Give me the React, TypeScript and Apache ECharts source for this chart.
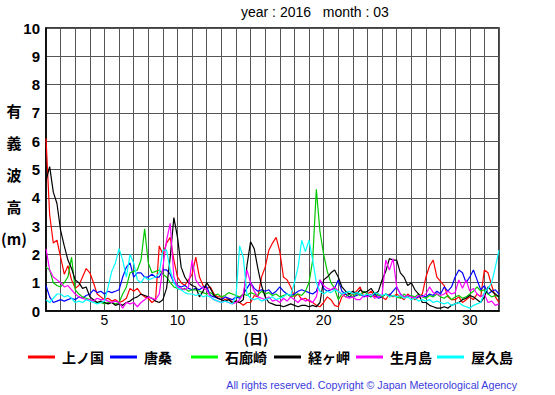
import React, { useEffect, useRef } from "react";
import * as echarts from "echarts";

// time axis: 6-hourly samples from day 1 00h to day 32 00h
const days: number[] = Array.from({ length: 125 }, (_, i) => 1 + i / 4);

const stationNames = ["上ノ国", "唐桑", "石廊崎", "経ヶ岬", "生月島", "屋久島"];
const xTickLabels = [5, 10, 15, 20, 25, 30];

const kaminokuni = [
  6.1, 3.4, 2.4, 2.5,
  1.9, 1.3, 1.6, 1.1,
  0.8, 0.9, 1.2, 1.5,
  1.35, 1.0, 0.6, 0.5,
  0.4, 0.45, 0.35, 0.4,
  0.3, 0.35, 0.45, 0.8,
  0.7, 0.8, 0.6, 0.5,
  0.45, 0.3, 0.4, 2.3,
  2.0, 2.4, 2.6, 1.8,
  1.2, 1.0, 0.9, 1.1,
  1.3, 1.9, 1.2, 0.9,
  0.8, 0.85, 0.6, 0.5,
  0.5, 0.4, 0.45, 0.3,
  0.35, 0.3, 0.2, 0.3,
  0.3, 0.55, 0.5, 1.2,
  1.55, 2.15, 2.4, 2.6,
  2.1, 1.2, 1.1, 0.85,
  0.5, 0.6, 0.4, 0.45,
  0.35, 0.3, 0.2, 0.15,
  0.3, 0.5, 0.4, 0.2,
  0.15, 0.5, 0.6, 0.5,
  0.6, 0.7, 0.85, 0.5,
  0.6, 0.7, 0.5, 0.6,
  0.5, 0.4, 0.6, 0.5,
  0.6, 0.5, 0.4, 0.6,
  0.5, 0.4, 0.5, 0.6,
  1.2, 1.6, 1.8, 1.2,
  1.05, 0.9, 0.5, 0.4,
  0.4, 0.5, 0.3, 0.4,
  0.5, 0.4, 0.6, 0.5,
  1.45, 1.35, 0.9, 0.5,
  0.3,
];

const karakuwa = [
  0.9, 0.5, 0.3, 0.35,
  0.4, 0.35, 0.4, 0.45,
  0.4, 0.5, 0.45, 0.55,
  0.6, 0.75, 0.65, 0.7,
  0.6, 0.7, 0.65, 0.7,
  0.75, 1.2, 1.55, 1.7,
  1.2, 1.35, 1.35, 1.2,
  1.2, 1.3, 1.2, 1.2,
  1.45, 1.45, 1.3, 1.0,
  0.9, 0.85, 0.9, 0.8,
  0.75, 0.8, 0.75, 0.85,
  0.85, 0.55, 0.5, 0.45,
  0.4, 0.5, 0.45, 0.4,
  0.5, 0.45, 0.6, 0.8,
  1.0, 0.8, 0.7, 0.75,
  0.7, 0.75, 0.6, 0.7,
  0.85, 0.7, 0.6, 0.55,
  0.6, 0.7, 0.75, 0.7,
  0.65, 0.6, 0.7, 1.1,
  0.8, 0.7, 0.75, 0.8,
  1.1, 0.7, 0.6, 0.5,
  0.5, 0.55, 0.6, 0.5,
  0.55, 0.5, 0.6, 0.45,
  0.5, 0.6, 0.55, 0.7,
  0.85, 0.6, 0.5, 0.55,
  0.5, 0.45, 0.5, 0.55,
  0.5, 0.6, 0.55, 0.7,
  0.6, 0.85, 0.7, 0.85,
  1.2, 1.45, 1.35, 1.0,
  1.2, 1.45, 1.1, 0.75,
  0.9, 0.6, 0.7, 0.75,
  0.6,
];

const irozaki = [
  1.55, 1.45, 1.0, 0.9,
  0.85, 1.0, 1.2, 1.9,
  0.75, 0.6, 0.5, 0.45,
  0.4, 0.35, 0.3, 0.3,
  0.25, 0.3, 0.3, 0.25,
  0.3, 0.6, 0.85, 1.35,
  1.4, 1.45, 1.8, 2.9,
  1.7, 1.35, 1.4, 1.45,
  1.3, 1.2, 1.0, 0.85,
  0.8, 0.75, 0.8, 0.7,
  0.75, 0.75, 0.7, 0.65,
  0.6, 0.65, 0.55, 0.6,
  0.5, 0.55, 0.65, 0.6,
  0.55, 0.5, 0.6, 0.55,
  0.65, 0.6, 0.55, 0.7,
  0.6, 0.65, 0.55, 0.6,
  0.5, 0.55, 0.6, 0.5,
  0.55, 0.6, 0.55, 0.7,
  1.0, 1.8, 4.3, 2.8,
  2.0, 1.4, 1.0, 0.8,
  0.4, 0.6, 0.5, 0.6,
  0.5, 0.65, 0.55, 0.7,
  0.6, 0.5, 0.65, 0.55,
  0.5, 0.6, 0.5, 0.55,
  0.5, 0.45, 0.6, 0.5,
  0.55, 0.5, 0.6, 0.5,
  0.45, 0.55, 0.5, 0.6,
  0.5, 0.45, 0.55, 0.4,
  0.5, 0.55, 0.45, 0.5,
  0.6, 0.7, 0.85, 0.7,
  0.75, 0.6, 0.5, 0.55,
  0.5,
];

const kyogamisaki = [
  4.6, 5.1, 4.2, 3.8,
  2.85, 2.3, 1.8, 1.5,
  1.1, 1.0, 0.8, 0.85,
  0.5, 0.4, 0.3, 0.35,
  0.3, 0.25, 0.3, 0.2,
  0.25, 0.2, 0.3, 0.35,
  0.45, 0.5, 0.6, 0.55,
  0.5, 0.45, 0.35, 0.3,
  0.4, 0.8, 1.9, 3.3,
  2.6, 1.55, 1.2, 1.0,
  0.9, 0.85, 0.5, 0.7,
  1.0, 0.8, 0.55, 0.45,
  0.4, 0.35, 0.4, 0.3,
  0.35, 0.3, 0.4, 1.6,
  2.45, 2.2, 1.5, 0.9,
  0.5, 0.3, 0.25, 0.2,
  0.2, 0.15, 0.2, 0.25,
  0.2, 0.15, 0.2, 0.2,
  0.15, 0.2, 0.15, 0.3,
  1.1, 1.2, 1.35, 1.45,
  1.2, 0.85, 0.7, 0.6,
  0.7, 0.6, 0.75, 0.65,
  0.7, 0.8, 0.6, 0.7,
  1.1, 1.4, 1.85, 1.8,
  1.8, 1.35, 1.2, 0.9,
  1.0, 0.75, 0.6, 0.3,
  0.3, 0.2, 0.15, 0.1,
  0.1, 0.15, 0.1, 0.2,
  0.25, 0.3, 0.4, 0.45,
  0.55, 0.5, 0.4, 0.3,
  0.5, 0.85, 0.7, 0.6,
  0.5,
];

const ikitsukishima = [
  2.2, 1.45, 1.2, 1.1,
  1.0, 0.85, 0.9, 0.75,
  0.6, 0.5, 0.45, 0.4,
  0.4, 0.35, 0.45, 0.4,
  0.4, 0.35, 0.3, 0.35,
  0.3, 0.1, 0.3, 0.25,
  0.3, 0.15, 0.3, 0.4,
  0.5, 0.45, 0.4, 0.6,
  1.55, 2.5, 3.1, 1.2,
  0.85, 0.8, 0.75, 0.85,
  1.8, 1.1, 0.9, 0.8,
  0.75, 0.5, 0.4, 0.35,
  0.3, 0.35, 0.3, 0.25,
  0.3, 0.4, 0.6, 1.45,
  1.0, 0.7, 0.5, 0.45,
  0.4, 0.5, 0.35, 0.4,
  0.3, 0.45, 0.35, 0.5,
  0.4, 0.3, 0.45, 0.35,
  0.4, 0.3, 0.5, 1.1,
  0.9, 0.8, 0.75, 0.85,
  0.7, 0.6, 0.5, 0.45,
  0.5, 0.4, 0.4, 0.55,
  0.5, 0.6, 0.45, 0.5,
  0.55, 1.8, 1.45, 1.85,
  0.85, 0.6, 0.5, 0.55,
  0.5, 0.45, 0.55, 0.5,
  0.6, 0.85, 0.65, 0.6,
  0.55, 0.6, 0.7, 0.6,
  0.65, 1.1, 0.8, 1.1,
  0.7, 0.8, 0.6, 0.5,
  0.6, 0.3, 0.35, 0.2,
  0.25,
];

const yakushima = [
  0.4, 0.3, 0.45, 0.6,
  0.6, 0.5, 0.55, 0.45,
  0.3, 0.35, 0.3, 0.4,
  0.35, 0.3, 0.25, 0.3,
  0.35, 0.85, 1.4, 1.7,
  2.2, 1.8, 1.2, 2.0,
  1.7, 1.1, 1.0, 1.2,
  1.1, 1.15, 1.2, 1.35,
  2.15, 2.15, 1.45, 1.0,
  0.8, 0.75, 0.65, 0.6,
  0.6, 0.55, 0.6, 0.5,
  0.55, 0.5, 0.4, 0.35,
  0.3, 0.35, 0.3, 0.25,
  0.5, 2.3, 1.9, 0.6,
  0.45, 0.4, 0.45, 0.35,
  0.4, 0.45, 0.5, 0.4,
  0.45, 0.5, 0.6, 0.55,
  1.0, 1.55, 2.5, 2.1,
  2.5, 1.8, 1.0, 0.7,
  0.6, 0.7, 0.65, 0.75,
  0.7, 0.6, 0.65, 0.7,
  0.6, 0.65, 0.6, 0.55,
  0.6, 0.55, 0.65, 0.6,
  0.55, 0.6, 0.5, 0.55,
  0.5, 0.55, 0.45, 0.5,
  0.4, 0.45, 0.35, 0.4,
  0.35, 0.4, 0.3, 0.35,
  0.3, 0.25, 0.3, 0.2,
  0.25, 0.3, 0.2, 0.15,
  0.1, 0.2, 0.25, 0.3,
  0.65, 0.8, 1.0, 1.55,
  2.15,
];

const seriesValues = [kaminokuni, karakuwa, irozaki, kyogamisaki, ikitsukishima, yakushima];
const lineColors = ["#ff0000", "#0000ff", "#00c800", "#000000", "#ff00ff", "#00ffff"];
const legendColors = ["#ff0000", "#0000ff", "#00ff00", "#000000", "#ff00ff", "#00ffff"];
const legendLefts = [28, 110, 191, 274, 356, 437];

export default function App() {
  const ref = useRef<HTMLDivElement>(null);
  useEffect(() => {
    document.body.style.margin = "0";
    if (!ref.current) return;
    const chart = echarts.init(ref.current, null, { renderer: "svg" });
    const yNameChars = ["有", "義", "波", "高", "(m)"];
    chart.setOption({
      animation: false,
      backgroundColor: "#ffffff",
      grid: {
        left: 46,
        top: 28,
        width: 453,
        height: 283,
        show: true,
        borderColor: "#000",
        borderWidth: 1.5,
        containLabel: false,
      },
      xAxis: {
        type: "value",
        min: 1,
        max: 32,
        interval: 1,
        axisLine: { show: true, lineStyle: { color: "#000", width: 1.5 } },
        axisTick: { show: false },
        splitLine: { show: true, lineStyle: { color: "#555", width: 1 } },
        axisLabel: {
          color: "#000",
          fontSize: 14,
          lineHeight: 14,
          fontFamily: "Liberation Sans, Arial, sans-serif",
          margin: 2,
          formatter: (v: number) => (xTickLabels.includes(v) ? String(v) : ""),
        },
      },
      yAxis: {
        type: "value",
        min: 0,
        max: 10,
        interval: 1,
        axisLine: { show: true, lineStyle: { color: "#000", width: 1.5 } },
        axisTick: { show: false },
        splitLine: { show: true, lineStyle: { color: "#555", width: 1 } },
        axisLabel: {
          color: "#000",
          fontSize: 15,
          fontWeight: "bold",
          fontFamily: "Liberation Sans, Arial, sans-serif",
          margin: 6,
        },
      },
      legend: stationNames.map((n, i) => ({
        data: [{ name: n, icon: "rect" }],
        left: legendLefts[i],
        top: 350,
        itemWidth: 27,
        itemHeight: 3,
        padding: 0,
        textStyle: {
          color: "#000",
          fontSize: 14,
          fontWeight: "bold",
          fontFamily: "Noto Sans CJK JP, sans-serif",
          padding: [0, 0, 0, 2],
        },
      })),
      series: stationNames.map((n, i) => ({
        name: n,
        type: "line",
        showSymbol: false,
        symbol: "none",
        data: days.map((d, k) => [d, seriesValues[i][k]]),
        itemStyle: { color: legendColors[i] },
        lineStyle: { color: lineColors[i], width: 1.2 },
        emphasis: { disabled: true },
      })),
      graphic: [
        {
          type: "text",
          left: 241,
          top: 5,
          style: {
            text: "year : 2016   month : 03",
            fontSize: 14,
            fontFamily: "Liberation Sans, Arial, sans-serif",
            fill: "#000",
          },
        },
        ...yNameChars.map((c, i) => ({
          type: "text",
          x: 14,
          y: 110 + i * 32,
          style: {
            text: c,
            fontSize: 15,
            fontWeight: "bold",
            fontFamily: "Noto Sans CJK JP, sans-serif",
            fill: "#000",
            align: "center",
            verticalAlign: "middle",
          },
        })),
        {
          type: "text",
          x: 256,
          y: 338,
          style: {
            text: "(日)",
            fontSize: 14,
            fontWeight: "bold",
            fontFamily: "Noto Sans CJK JP, sans-serif",
            fill: "#000",
            align: "center",
            verticalAlign: "middle",
            lineHeight: 14,
          },
        },
        {
          type: "text",
          x: 517,
          y: 385,
          style: {
            text: "All rights reserved. Copyright © Japan Meteorological Agency",
            fontSize: 10.7,
            fontFamily: "Liberation Sans, Arial, sans-serif",
            fill: "#3b3bdd",
            align: "right",
            verticalAlign: "middle",
          },
        },
      ],
    });
    return () => chart.dispose();
  }, []);
  return <div ref={ref} style={{ width: 555, height: 395 }} />;
}
